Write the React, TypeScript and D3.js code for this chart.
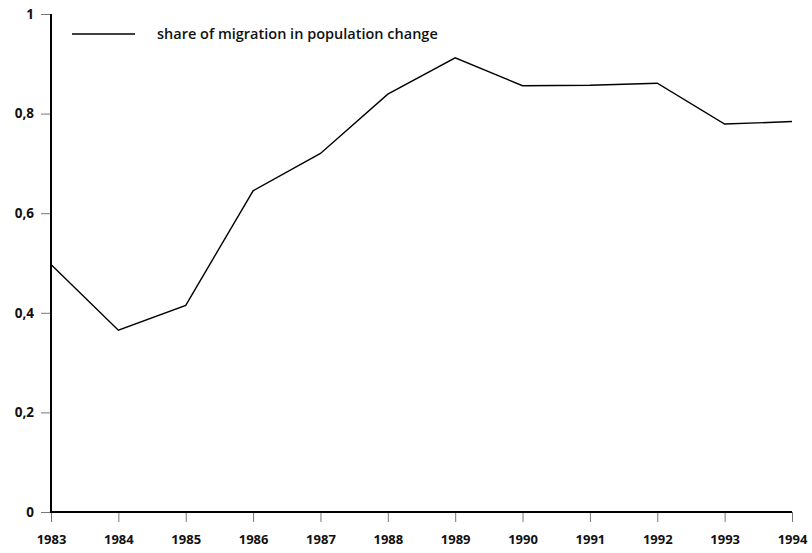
import * as d3 from 'd3';
import { useRef, useEffect } from 'react';

// share of migration in population change, per year
const years: number[] = [1983, 1984, 1985, 1986, 1987, 1988, 1989, 1990, 1991, 1992, 1993, 1994];
const share: number[] = [0.497, 0.365, 0.415, 0.645, 0.72, 0.839, 0.912, 0.856, 0.857, 0.861, 0.779, 0.784];
const yTicks: number[] = [0, 0.2, 0.4, 0.6, 0.8, 1];
const legendLabel = 'share of migration in population change';

const LineChart = (props: any) => {
	const margin = {top: 14, right: 20, bottom: 41, left: 51};
	const width = props.width - margin.left - margin.right;
	const height = props.height - margin.top - margin.bottom;
	const ref: any = useRef();

	useEffect(() => {
		draw();
	}, []);

	const draw = () => {
		const svg = d3.select(ref.current)
			.attr("width", props.width)
			.attr("height", props.height);
		svg.selectAll("*").remove();

		const x = d3.scaleLinear()
			.domain([years[0], years[years.length - 1]])
			.range([0, width]);
		const y = d3.scaleLinear()
			.domain([0, 1])
			.range([height, 0]);

		const g = svg.append("g")
			.attr("transform", "translate(" + margin.left + "," + margin.top + ")");

		const font = "'Open Sans', sans-serif";

		// Y axis
		const yAxis = g.append("g")
			.call(d3.axisLeft(y).tickValues(yTicks).tickSize(10).tickPadding(7)
				.tickFormat((d: any) => d3.format("~g")(d).replace(".", ",")));
		yAxis.select(".domain").remove();
		yAxis.selectAll(".tick line").attr("stroke", "#777").attr("stroke-width", 1);
		yAxis.selectAll("text")
			.attr("font-family", font)
			.attr("font-size", 13.5)
			.attr("font-weight", 700)
			.attr("fill", "#111");

		// X axis
		const xAxis = g.append("g")
			.attr("transform", "translate(0," + height + ")")
			.call(d3.axisBottom(x).tickValues(years).tickSize(10).tickPadding(13)
				.tickFormat((d: any) => String(d)));
		xAxis.select(".domain").remove();
		xAxis.selectAll(".tick line").attr("stroke", "#777").attr("stroke-width", 1);
		xAxis.selectAll("text")
			.attr("font-family", font)
			.attr("font-size", 13)
			.attr("font-weight", 700)
			.attr("fill", "#111");

		// axis lines
		g.append("line")
			.attr("x1", 0).attr("x2", 0)
			.attr("y1", 0).attr("y2", height)
			.attr("stroke", "#000").attr("stroke-width", 2);
		g.append("line")
			.attr("x1", -1).attr("x2", width)
			.attr("y1", height).attr("y2", height)
			.attr("stroke", "#000").attr("stroke-width", 2);

		// data line
		const line = d3.line<number>()
			.x((d, i) => x(years[i]))
			.y(d => y(d));
		g.append("path")
			.datum(share)
			.attr("d", line)
			.attr("fill", "none")
			.attr("stroke", "#000")
			.attr("stroke-width", 1.4);

		// legend
		const legend = g.append("g").attr("transform", "translate(21,20)");
		legend.append("line")
			.attr("x1", 0).attr("x2", 63)
			.attr("y1", 0).attr("y2", 0)
			.attr("stroke", "#000").attr("stroke-width", 1.6);
		legend.append("text")
			.attr("x", 85).attr("y", 5)
			.attr("font-family", font)
			.attr("font-size", 14.5)
			.attr("font-weight", 600)
			.attr("fill", "#111")
			.text(legendLabel);
	};

	return (
		<svg ref={ref} style={{position: "absolute", left: 0, top: 0}}>
		</svg>
	);
};

export default function App() {
	return <LineChart width={812} height={553} />;
}
